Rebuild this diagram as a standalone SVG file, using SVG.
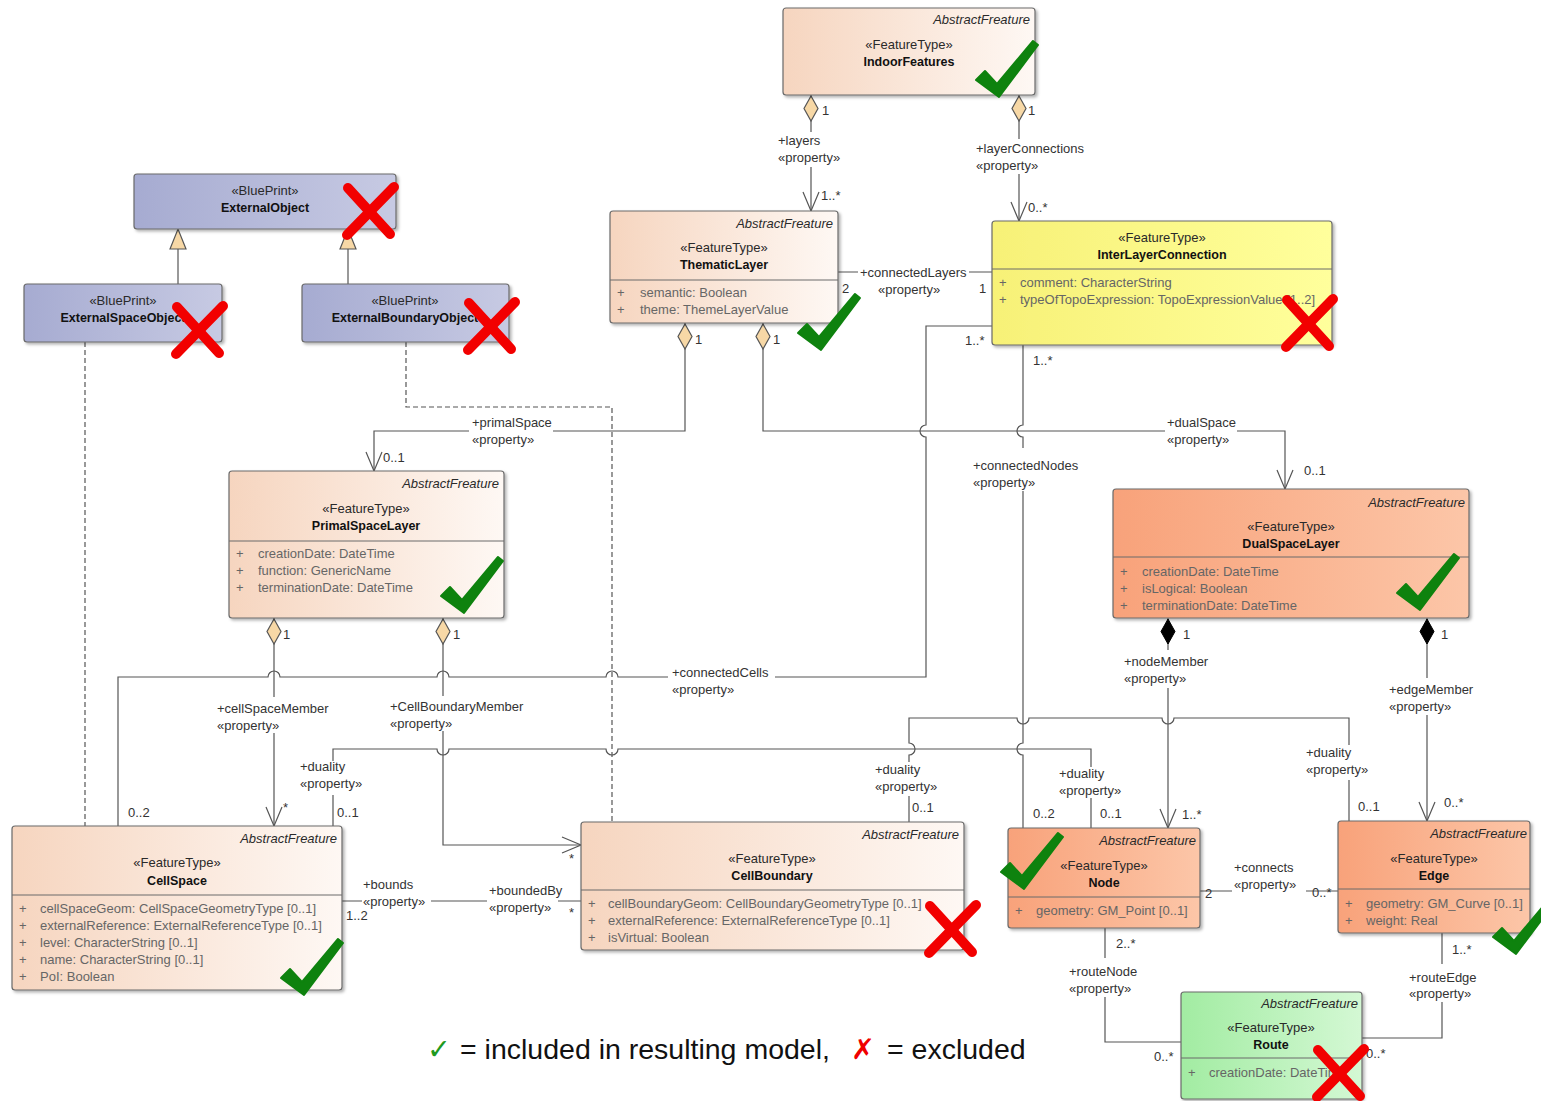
<svg xmlns="http://www.w3.org/2000/svg" xmlns:xlink="http://www.w3.org/1999/xlink" width="1541" height="1101" viewBox="0 0 1541 1101">
<style>
text { font-family: "Liberation Sans", Arial, sans-serif; font-size: 13px; fill: #2a2a2a; }
.box { stroke: #6a6a6a; stroke-width: 1.2; filter: url(#sh); }
.dv { stroke: #6a6a6a; stroke-width: 1; }
.ab { font-style: italic; text-anchor: end; }
.st { text-anchor: middle; }
.nm { text-anchor: middle; font-weight: bold; fill: #111; font-size: 12.5px; }
.at { fill: #666; }
.ln { fill: none; stroke: #555; stroke-width: 1.2; }
.dash { stroke-dasharray: 5 3; }
.lbl { fill: #333; }
.ok { fill: #0e820e; stroke: #0e820e; stroke-width: 2; stroke-linejoin: round; }
.no { fill: none; stroke: #f20000; stroke-width: 10; stroke-linecap: round; }
.leg { font-size: 28.5px; fill: #111; }
</style>
<defs>
<linearGradient id="gPeach" x1="0" x2="1" y1="0" y2="0"><stop offset="0" stop-color="#f6d5bf"/><stop offset="1" stop-color="#fef8f4"/></linearGradient>
<linearGradient id="gOrange" x1="0" x2="1" y1="0" y2="0"><stop offset="0" stop-color="#f8a27a"/><stop offset="1" stop-color="#fcc6a8"/></linearGradient>
<linearGradient id="gYellow" x1="0" x2="1" y1="0" y2="0"><stop offset="0" stop-color="#f7f177"/><stop offset="1" stop-color="#ffff9c"/></linearGradient>
<linearGradient id="gBlue" x1="0" x2="1" y1="0" y2="0"><stop offset="0" stop-color="#a6abd1"/><stop offset="1" stop-color="#c7cae3"/></linearGradient>
<linearGradient id="gGreen" x1="0" x2="1" y1="0" y2="0"><stop offset="0" stop-color="#a2eca2"/><stop offset="1" stop-color="#d4f8d4"/></linearGradient>
<filter id="sh" x="-5%" y="-5%" width="115%" height="125%"><feDropShadow dx="2" dy="2" stdDeviation="1.5" flood-color="#000" flood-opacity="0.3"/></filter>
<marker id="dia" viewBox="0 -8 28 16" refX="0" refY="0" markerWidth="28" markerHeight="16" markerUnits="userSpaceOnUse" orient="auto"><path d="M1,0 L13.5,-7 L26,0 L13.5,7 Z" fill="#f7d8a6" stroke="#555" stroke-width="1.2"/></marker>
<marker id="diaF" viewBox="0 -8 28 16" refX="0" refY="0" markerWidth="28" markerHeight="16" markerUnits="userSpaceOnUse" orient="auto"><path d="M1,0 L13.5,-7 L26,0 L13.5,7 Z" fill="#000" stroke="#000" stroke-width="1"/></marker>
<marker id="arr" viewBox="-21 -10 23 20" refX="0" refY="0" markerWidth="23" markerHeight="20" markerUnits="userSpaceOnUse" orient="auto"><path d="M-19,-8 L0,0 L-19,8" fill="none" stroke="#555" stroke-width="1.2"/></marker>
<marker id="tri" viewBox="-22 -10 24 20" refX="0" refY="0" markerWidth="24" markerHeight="20" markerUnits="userSpaceOnUse" orient="auto"><path d="M-20,-8 L0,0 L-20,8 Z" fill="#f7d8a6" stroke="#555" stroke-width="1.2"/></marker>
<path id="chk" class="ok" d="M1,40 L10,31 L22,44 L58,1 L63,5 L24,57 Z"/>
<g id="crs"><path class="no" d="M8,6 L50,52"/><path class="no" d="M54,5 L7,53"/></g>
</defs>
<rect x="0" y="0" width="1541" height="1101" fill="#fff"/>

<g id="connectors">
  <!-- generalizations -->
  <path class="ln" d="M178,284 L178,229" marker-end="url(#tri)"/>
  <path class="ln" d="M348,284 L348,229" marker-end="url(#tri)"/>
  <!-- dependencies (dashed) -->
  <path class="ln dash" d="M85,342 L85,826"/>
  <path class="ln dash" d="M406,342 L406,407 L612,407 L612,822"/>
  <!-- layers -->
  <path class="ln" d="M811,95 L811,132 M811,167 L811,211" marker-start="url(#dia)" marker-end="url(#arr)"/>
  <text class="lbl" x="822" y="115">1</text>
  <text class="lbl" x="778" y="145">+layers</text>
  <text class="lbl" x="778" y="162">«property»</text>
  <text class="lbl" x="821" y="200">1..*</text>
  <!-- layerConnections -->
  <path class="ln" d="M1019,95 L1019,139 M1019,174 L1019,221" marker-start="url(#dia)" marker-end="url(#arr)"/>
  <text class="lbl" x="1028" y="115">1</text>
  <text class="lbl" x="976" y="153">+layerConnections</text>
  <text class="lbl" x="976" y="170">«property»</text>
  <text class="lbl" x="1028" y="212">0..*</text>
  <!-- connectedLayers -->
  <path class="ln" d="M838,272 L858,272 M969,272 L992,272"/>
  <text class="lbl" x="860" y="277">+connectedLayers</text>
  <text class="lbl" x="878" y="294">«property»</text>
  <text class="lbl" x="842" y="293">2</text>
  <text class="lbl" x="979" y="293">1</text>
  <!-- primalSpace -->
  <path class="ln" d="M685,323 L685,431 L553,431 M469,431 L374,431 L374,471" marker-start="url(#dia)" marker-end="url(#arr)"/>
  <text class="lbl" x="695" y="344">1</text>
  <text class="lbl" x="472" y="427">+primalSpace</text>
  <text class="lbl" x="472" y="444">«property»</text>
  <text class="lbl" x="383" y="462">0..1</text>
  <!-- dualSpace -->
  <path class="ln" d="M763,323 L763,431 L1165,431 M1237,431 L1285,431 L1285,489" marker-start="url(#dia)" marker-end="url(#arr)"/>
  <text class="lbl" x="773" y="344">1</text>
  <text class="lbl" x="1167" y="427">+dualSpace</text>
  <text class="lbl" x="1167" y="444">«property»</text>
  <text class="lbl" x="1304" y="475">0..1</text>
  <!-- connectedCells -->
  <path class="ln" d="M992,326 L926,326 L926,425 A6,6 0 0 0 926,437 L926,677 L775,677 M668,677 L618,677 A6,6 0 0 0 606,677 L449,677 A6,6 0 0 0 437,677 L280,677 A6,6 0 0 0 268,677 L118,677 L118,826"/>
  <text class="lbl" x="965" y="345">1..*</text>
  <text class="lbl" x="672" y="677">+connectedCells</text>
  <text class="lbl" x="672" y="694">«property»</text>
  <text class="lbl" x="128" y="817">0..2</text>
  <!-- connectedNodes -->
  <path class="ln" d="M1023,345 L1023,425 A6,6 0 0 0 1023,437 L1023,448 M1023,491 L1023,743 A6,6 0 0 0 1023,755 L1023,828"/>
  <text class="lbl" x="1033" y="365">1..*</text>
  <text class="lbl" x="973" y="470">+connectedNodes</text>
  <text class="lbl" x="973" y="487">«property»</text>
  <text class="lbl" x="1033" y="818">0..2</text>
  <!-- cellSpaceMember -->
  <path class="ln" d="M274,618 L274,697 M274,733 L274,826" marker-start="url(#dia)" marker-end="url(#arr)"/>
  <text class="lbl" x="283" y="639">1</text>
  <text class="lbl" x="217" y="713">+cellSpaceMember</text>
  <text class="lbl" x="217" y="730">«property»</text>
  <text class="lbl" x="283" y="812">*</text>
  <!-- CellBoundaryMember -->
  <path class="ln" d="M443,618 L443,696 M443,731 L443,845 L581,845" marker-start="url(#dia)" marker-end="url(#arr)"/>
  <text class="lbl" x="453" y="639">1</text>
  <text class="lbl" x="390" y="711">+CellBoundaryMember</text>
  <text class="lbl" x="390" y="728">«property»</text>
  <text class="lbl" x="569" y="863">*</text>
  <!-- duality CellSpace - Node -->
  <path class="ln" d="M333,826 L333,795 M333,761 L333,749 L437,749 A6,6 0 0 0 449,749 L606,749 A6,6 0 0 0 618,749 L1091,749 L1091,767 M1091,798 L1091,828"/>
  <text class="lbl" x="300" y="771">+duality</text>
  <text class="lbl" x="300" y="788">«property»</text>
  <text class="lbl" x="337" y="817">0..1</text>
  <text class="lbl" x="1059" y="778">+duality</text>
  <text class="lbl" x="1059" y="795">«property»</text>
  <text class="lbl" x="1100" y="818">0..1</text>
  <!-- duality CellBoundary - Edge -->
  <path class="ln" d="M909,822 L909,796 M909,762 L909,755 A6,6 0 0 0 909,743 L909,718 L1017,718 A6,6 0 0 0 1029,718 L1162,718 A6,6 0 0 0 1174,718 L1349,718 L1349,745 M1349,780 L1349,821"/>
  <text class="lbl" x="875" y="774">+duality</text>
  <text class="lbl" x="875" y="791">«property»</text>
  <text class="lbl" x="912" y="812">0..1</text>
  <text class="lbl" x="1306" y="757">+duality</text>
  <text class="lbl" x="1306" y="774">«property»</text>
  <text class="lbl" x="1358" y="811">0..1</text>
  <!-- bounds / boundedBy -->
  <path class="ln" d="M342,901 L362,901 M431,901 L487,901 M558,901 L581,901"/>
  <text class="lbl" x="363" y="889">+bounds</text>
  <text class="lbl" x="363" y="906">«property»</text>
  <text class="lbl" x="346" y="920">1..2</text>
  <text class="lbl" x="489" y="895">+boundedBy</text>
  <text class="lbl" x="489" y="912">«property»</text>
  <text class="lbl" x="569" y="917">*</text>
  <!-- nodeMember -->
  <path class="ln" d="M1168,618 L1168,650 M1168,688 L1168,828" marker-start="url(#diaF)" marker-end="url(#arr)"/>
  <text class="lbl" x="1183" y="639">1</text>
  <text class="lbl" x="1124" y="666">+nodeMember</text>
  <text class="lbl" x="1124" y="683">«property»</text>
  <text class="lbl" x="1182" y="819">1..*</text>
  <!-- edgeMember -->
  <path class="ln" d="M1427,618 L1427,678 M1427,715 L1427,821" marker-start="url(#diaF)" marker-end="url(#arr)"/>
  <text class="lbl" x="1441" y="639">1</text>
  <text class="lbl" x="1389" y="694">+edgeMember</text>
  <text class="lbl" x="1389" y="711">«property»</text>
  <text class="lbl" x="1444" y="807">0..*</text>
  <!-- connects -->
  <path class="ln" d="M1200,891 L1232,891 M1306,891 L1338,891"/>
  <text class="lbl" x="1234" y="872">+connects</text>
  <text class="lbl" x="1234" y="889">«property»</text>
  <text class="lbl" x="1205" y="898">2</text>
  <text class="lbl" x="1312" y="897">0..*</text>
  <!-- routeNode -->
  <path class="ln" d="M1105,928 L1105,958 M1105,997 L1105,1042 L1181,1042"/>
  <text class="lbl" x="1116" y="948">2..*</text>
  <text class="lbl" x="1069" y="976">+routeNode</text>
  <text class="lbl" x="1069" y="993">«property»</text>
  <text class="lbl" x="1154" y="1061">0..*</text>
  <!-- routeEdge -->
  <path class="ln" d="M1442,933 L1442,964 M1442,1002 L1442,1038 L1362,1038"/>
  <text class="lbl" x="1452" y="954">1..*</text>
  <text class="lbl" x="1409" y="982">+routeEdge</text>
  <text class="lbl" x="1409" y="998">«property»</text>
  <text class="lbl" x="1366" y="1058">0..*</text>
</g>

<g id="IndoorFeatures">
  <rect class="box" x="783" y="8" width="252" height="87" rx="3" fill="url(#gPeach)"/>
  <text class="ab" x="1030" y="24">AbstractFreature</text>
  <text class="st" x="909" y="49">«FeatureType»</text>
  <text class="nm" x="909" y="66">IndoorFeatures</text>
  <use href="#chk" x="975" y="40"/>
</g>

<g id="ThematicLayer">
  <rect class="box" x="610" y="211" width="228" height="112" rx="3" fill="url(#gPeach)"/>
  <line class="dv" x1="610" y1="280" x2="838" y2="280"/>
  <text class="ab" x="833" y="228">AbstractFreature</text>
  <text class="st" x="724" y="252">«FeatureType»</text>
  <text class="nm" x="724" y="269">ThematicLayer</text>
  <text class="at" x="617" y="297">+</text>
  <text class="at" x="640" y="297">semantic: Boolean</text>
  <text class="at" x="617" y="314">+</text>
  <text class="at" x="640" y="314">theme: ThemeLayerValue</text>
  <use href="#chk" x="797" y="293"/>
</g>

<g id="InterLayerConnection">
  <rect class="box" x="992" y="221" width="340" height="124" rx="3" fill="url(#gYellow)"/>
  <line class="dv" x1="992" y1="269" x2="1332" y2="269"/>
  <text class="st" x="1162" y="242">«FeatureType»</text>
  <text class="nm" x="1162" y="259">InterLayerConnection</text>
  <text class="at" x="999" y="287">+</text>
  <text class="at" x="1020" y="287">comment: CharacterString</text>
  <text class="at" x="999" y="304">+</text>
  <text class="at" x="1020" y="304">typeOfTopoExpression: TopoExpressionValue [1..2]</text>
  <use href="#crs" x="1279" y="294"/>
</g>

<g id="ExternalObject">
  <rect class="box" x="134" y="174" width="262" height="55" rx="3" fill="url(#gBlue)"/>
  <text class="st" x="265" y="195">«BluePrint»</text>
  <text class="nm" x="265" y="212">ExternalObject</text>
  <use href="#crs" x="340" y="182"/>
</g>

<g id="ExternalSpaceObject">
  <rect class="box" x="24" y="284" width="198" height="58" rx="3" fill="url(#gBlue)"/>
  <text class="st" x="123" y="305">«BluePrint»</text>
  <text class="nm" x="123" y="322">ExternalSpaceObject</text>
  <use href="#crs" x="169" y="301"/>
</g>

<g id="ExternalBoundaryObject">
  <rect class="box" x="302" y="284" width="207" height="58" rx="3" fill="url(#gBlue)"/>
  <text class="st" x="405" y="305">«BluePrint»</text>
  <text class="nm" x="405" y="322">ExternalBoundaryObject</text>
  <use href="#crs" x="461" y="297"/>
</g>

<g id="PrimalSpaceLayer">
  <rect class="box" x="229" y="471" width="275" height="147" rx="3" fill="url(#gPeach)"/>
  <line class="dv" x1="229" y1="541" x2="504" y2="541"/>
  <text class="ab" x="499" y="488">AbstractFreature</text>
  <text class="st" x="366" y="513">«FeatureType»</text>
  <text class="nm" x="366" y="530">PrimalSpaceLayer</text>
  <text class="at" x="236" y="558">+</text>
  <text class="at" x="258" y="558">creationDate: DateTime</text>
  <text class="at" x="236" y="575">+</text>
  <text class="at" x="258" y="575">function: GenericName</text>
  <text class="at" x="236" y="592">+</text>
  <text class="at" x="258" y="592">terminationDate: DateTime</text>
  <use href="#chk" x="440" y="556"/>
</g>

<g id="DualSpaceLayer">
  <rect class="box" x="1113" y="489" width="356" height="129" rx="3" fill="url(#gOrange)"/>
  <line class="dv" x1="1113" y1="557" x2="1469" y2="557"/>
  <text class="ab" x="1465" y="507">AbstractFreature</text>
  <text class="st" x="1291" y="531">«FeatureType»</text>
  <text class="nm" x="1291" y="548">DualSpaceLayer</text>
  <text class="at" x="1120" y="576">+</text>
  <text class="at" x="1142" y="576">creationDate: DateTime</text>
  <text class="at" x="1120" y="593">+</text>
  <text class="at" x="1142" y="593">isLogical: Boolean</text>
  <text class="at" x="1120" y="610">+</text>
  <text class="at" x="1142" y="610">terminationDate: DateTime</text>
  <use href="#chk" x="1396" y="553"/>
</g>

<g id="CellSpace">
  <rect class="box" x="12" y="826" width="330" height="164" rx="3" fill="url(#gPeach)"/>
  <line class="dv" x1="12" y1="895" x2="342" y2="895"/>
  <text class="ab" x="337" y="843">AbstractFreature</text>
  <text class="st" x="177" y="867">«FeatureType»</text>
  <text class="nm" x="177" y="885">CellSpace</text>
  <text class="at" x="19" y="913">+</text>
  <text class="at" x="40" y="913">cellSpaceGeom: CellSpaceGeometryType [0..1]</text>
  <text class="at" x="19" y="930">+</text>
  <text class="at" x="40" y="930">externalReference: ExternalReferenceType [0..1]</text>
  <text class="at" x="19" y="947">+</text>
  <text class="at" x="40" y="947">level: CharacterString [0..1]</text>
  <text class="at" x="19" y="964">+</text>
  <text class="at" x="40" y="964">name: CharacterString [0..1]</text>
  <text class="at" x="19" y="981">+</text>
  <text class="at" x="40" y="981">PoI: Boolean</text>
  <use href="#chk" x="280" y="938"/>
</g>

<g id="CellBoundary">
  <rect class="box" x="581" y="822" width="383" height="128" rx="3" fill="url(#gPeach)"/>
  <line class="dv" x1="581" y1="890" x2="964" y2="890"/>
  <text class="ab" x="959" y="839">AbstractFreature</text>
  <text class="st" x="772" y="863">«FeatureType»</text>
  <text class="nm" x="772" y="880">CellBoundary</text>
  <text class="at" x="588" y="908">+</text>
  <text class="at" x="608" y="908">cellBoundaryGeom: CellBoundaryGeometryType [0..1]</text>
  <text class="at" x="588" y="925">+</text>
  <text class="at" x="608" y="925">externalReference: ExternalReferenceType [0..1]</text>
  <text class="at" x="588" y="942">+</text>
  <text class="at" x="608" y="942">isVirtual: Boolean</text>
  <use href="#crs" x="922" y="900"/>
</g>

<g id="Node">
  <rect class="box" x="1008" y="828" width="192" height="100" rx="3" fill="url(#gOrange)"/>
  <line class="dv" x1="1008" y1="897" x2="1200" y2="897"/>
  <text class="ab" x="1196" y="845">AbstractFreature</text>
  <text class="st" x="1104" y="870">«FeatureType»</text>
  <text class="nm" x="1104" y="887">Node</text>
  <text class="at" x="1015" y="915">+</text>
  <text class="at" x="1036" y="915">geometry: GM_Point [0..1]</text>
  <use href="#chk" x="1000" y="832"/>
</g>

<g id="Edge">
  <rect class="box" x="1338" y="821" width="192" height="112" rx="3" fill="url(#gOrange)"/>
  <line class="dv" x1="1338" y1="889" x2="1530" y2="889"/>
  <text class="ab" x="1527" y="838">AbstractFreature</text>
  <text class="st" x="1434" y="863">«FeatureType»</text>
  <text class="nm" x="1434" y="880">Edge</text>
  <text class="at" x="1345" y="908">+</text>
  <text class="at" x="1366" y="908">geometry: GM_Curve [0..1]</text>
  <text class="at" x="1345" y="925">+</text>
  <text class="at" x="1366" y="925">weight: Real</text>
  <use href="#chk" x="1492" y="897"/>
</g>

<g id="Route">
  <rect class="box" x="1181" y="992" width="181" height="107" rx="3" fill="url(#gGreen)"/>
  <line class="dv" x1="1181" y1="1058" x2="1362" y2="1058"/>
  <text class="ab" x="1358" y="1008">AbstractFreature</text>
  <text class="st" x="1271" y="1032">«FeatureType»</text>
  <text class="nm" x="1271" y="1049">Route</text>
  <text class="at" x="1188" y="1077">+</text>
  <text class="at" x="1209" y="1077">creationDate: DateTime</text>
  <use href="#crs" x="1310" y="1044"/>
</g>

<g id="legend">
  <text class="leg" x="427" y="1059"><tspan fill="#1f9a1f" font-family="'DejaVu Sans', sans-serif">✓</tspan><tspan x="460">= included in resulting model,</tspan><tspan x="851" fill="#f00000" font-family="'DejaVu Sans', sans-serif">✗</tspan><tspan x="887">= excluded</tspan></text>
</g>
</svg>
